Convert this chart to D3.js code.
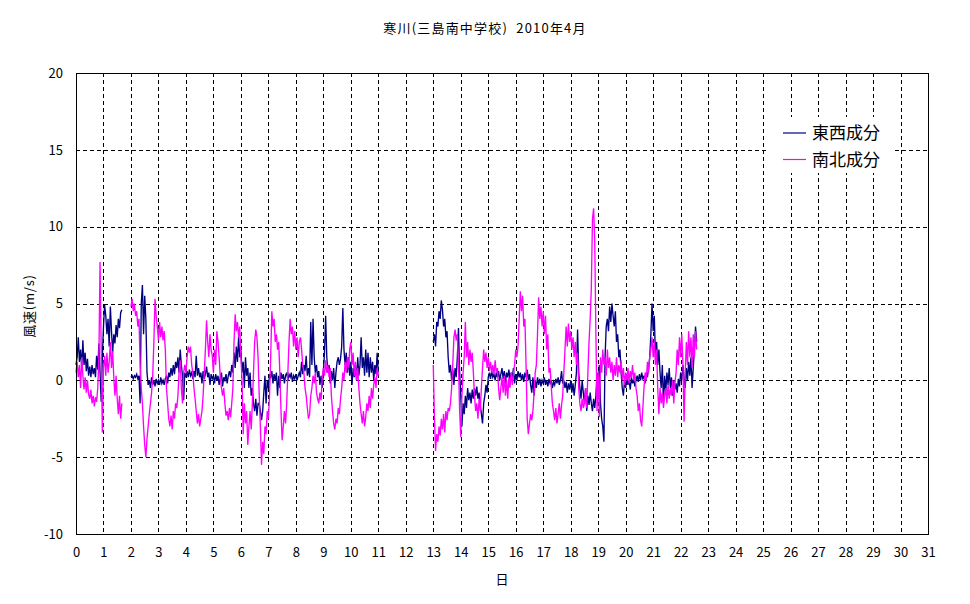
<!DOCTYPE html>
<html><head><meta charset="utf-8">
<script src="https://cdn.jsdelivr.net/npm/d3@7"></script>
<style>
body{margin:0;background:#fff}
text{font-family:"Noto Sans CJK JP","Noto Sans",sans-serif;fill:#000}
</style>
</head><body><svg id="c" width="970" height="604"></svg>
<script>
const chartTitle = "寒川(三島南中学校)  2010年4月";
const yLabel = "風速(m/s)";
const xLabel = "日";
const seriesNames = ["東西成分", "南北成分"];
const seriesColors = ["#000080", "#ff00ff"];
const dayTicks = d3.range(0, 32);
const yTicks = [-10, -5, 0, 5, 10, 15, 20];
// hourly data segments: start hour of each segment
const segStartHours = [0, 48, 312];

// 東西成分 (east-west component), m/s, hourly
const ewSeg1 = [1.0,1.5,2.8,1.2,2.0,0.8,2.6,1.0,1.8,0.6, 1.4,0.3,0.9,0.2,1.0,0.4,0.8,0.2,1.6,0.7,
 2.4,0.5,-1.4,1.5,3.5,4.9,4.2,3.0,4.0,2.2, 4.8,3.2,1.8,3.0,2.4,3.6,2.8,4.0,3.4,4.4, 4.6];
const ewSeg2 = [0.2,0.3,0.1,0.3,0.2,0.4,0.1,0.3,-1.5,5.0,
 6.2,3.0,5.5,4.0,0.5,-0.3,0.0,-0.5,0.2,-0.3,
 0.0,-0.4,0.1,-0.2,0.0,-0.3,0.2,-0.2,0.0,-0.3,
 0.1,0.3,-0.2,0.5,0.2,0.8,0.3,1.0,0.4,1.2,
 0.8,1.5,0.5,2.0,1.0,0.3,-1.3,0.5,0.2,0.6,
 0.2,0.7,0.3,0.5,0.1,0.6,0.2,1.6,0.3,0.8,
 0.2,0.5,-0.2,0.6,0.1,0.4,0.9,0.2,0.5,-0.3,
 0.4,0.1,0.3,-0.2,0.4,0.0,0.3,-0.3,0.2,0.5,
 -0.4,0.2,0.0,0.4,-0.2,0.3,0.6,0.2,1.0,0.5,
 1.8,0.8,2.2,1.2,2.8,1.5,2.0,0.5,1.2,-0.5,
 1.5,0.3,0.8,-0.5,0.5,-1.0,-0.5,-1.5,-2.0,-1.2,
 -2.3,-1.5,-1.5,-2.0,-2.6,-2.0,-0.8,0.3,-1.5,0.0,
 -0.5,0.4,0.2,0.6,-0.2,0.4,0.0,0.5,-1.0,0.3,
 -0.5,0.5,0.1,0.4,-0.2,0.3,0.5,0.0,0.4,0.2,
 0.5,-0.1,0.3,0.1,0.4,0.0,0.3,0.5,0.2,1.2,
 0.4,1.0,0.6,1.6,0.3,0.8,0.2,3.8,1.0,4.0,
 1.5,0.5,1.0,0.2,0.6,-0.3,0.3,-0.5,0.5,1.8,
 4.2,1.5,0.5,1.0,-0.2,0.6,0.0,0.8,-0.5,0.5,
 1.2,1.5,1.0,1.4,2.2,4.7,2.0,1.0,1.8,0.5,
 1.5,0.3,1.2,-0.3,0.8,0.2,1.0,0.0,1.5,0.3,
 1.0,2.8,0.8,1.5,0.3,2.0,0.5,1.8,0.2,1.5,
 0.5,1.2,0.0,1.0,0.4,1.8,0.5];
const ewSeg3 = [2.5,3.0,2.2,3.8,3.5,4.5,4.0,5.2,4.6,3.5,
 4.0,2.8,3.2,1.5,0.5,1.0,0.0,0.7,-0.3,0.8,
 0.2,1.5,3.4,0.5,-1.0,-3.0,-1.5,-2.2,-1.0,-1.8,
 -0.5,-1.3,-0.8,-1.5,-0.6,-1.2,-0.5,-1.0,-0.4,-1.2,
 -0.8,-1.6,-2.2,-2.8,-1.5,-1.0,-0.3,-0.8,0.2,0.5,
 0.1,0.6,0.2,0.4,0.0,0.5,0.2,0.6,0.0,0.4,
 0.8,0.1,0.6,-0.2,0.5,0.2,0.7,0.0,0.5,0.2,
 0.8,-0.2,0.4,0.0,0.6,0.2,0.5,0.0,0.4,-0.1,
 0.5,0.2,0.7,0.0,0.4,-0.3,-0.8,0.2,-1.0,0.0,
 -0.5,0.2,-0.3,0.1,-0.4,0.0,-0.2,0.2,-0.3,0.0,
 -0.4,0.1,-0.2,0.0,-0.5,-0.1,-0.3,0.1,-0.2,0.2,
 -0.3,0.0,0.6,-0.2,0.0,-0.5,-0.1,-0.8,-0.2,-0.6,
 0.0,-0.8,-0.2,-1.0,-0.3,0.5,3.3,0.5,-0.5,-1.2,
 0.0,-0.8,-1.5,-0.5,-2.0,-1.0,-1.6,-0.8,-1.5,-2.0,
 -1.2,-1.8,-1.0,0.5,-0.5,1.0,-1.5,-2.5,-3.0,-4.0,
 1.5,3.5,4.0,3.2,4.8,3.8,5.0,4.2,3.5,4.5,
 2.5,3.0,1.5,2.0,0.5,-0.5,-1.0,0.0,-0.5,0.2,
 -0.3,0.0,-0.6,0.2,-0.2,0.1,-0.4,0.0,0.3,-0.1,
 0.4,0.0,0.5,0.1,0.3,-0.2,0.5,0.2,0.8,1.5,
 3.0,5.0,3.2,4.2,1.5,2.5,1.0,2.0,0.5,-0.5,
 1.0,-1.5,0.3,-0.8,0.5,-0.3,0.8,-0.5,0.2,-1.0,
 0.0,-0.6,-0.2,-0.8,0.1,-0.4,0.5,0.0,1.0,0.2,
 -0.5,0.8,0.0,1.2,0.3,1.5,-0.5,0.8,2.0,3.5,
 2.5];

// 南北成分 (north-south component), m/s, hourly
const nsSeg1 = [0.5,1.2,0.2,1.0,-0.5,1.5,0.3,-0.6,0.2,-0.8, 0.0,-0.9,-1.2,-0.6,-1.5,-1.0,-1.7,-1.1,-1.4,-0.5,
 1.5,7.7,2.0,-3.4,0.8,1.6,0.3,1.8,0.5,1.2, 2.5,0.8,1.9,0.2,-1.0,0.3,-1.2,-2.2,-1.0,-2.5, -1.5];
const nsSeg2 = [4.8,5.3,4.5,5.0,4.2,4.5,3.5,4.0,1.0,-0.5,
 -1.5,-3.0,-4.2,-5.0,-3.8,-3.0,-2.2,-1.5,-0.8,0.3,
 2.5,5.3,4.2,3.5,2.6,3.8,2.8,3.5,2.6,3.2,
 2.0,-0.5,-1.5,-2.5,-3.0,-2.3,-3.2,-2.0,-2.5,-1.5,
 -1.8,-1.0,0.5,1.3,-0.5,-1.5,0.5,1.0,0.5,1.5,
 2.2,1.8,2.2,1.0,0.5,-0.5,-1.2,-2.0,-2.8,-2.2,
 -3.0,-2.5,-2.0,-1.0,0.5,2.0,3.9,2.5,1.5,3.0,
 2.0,1.6,0.5,2.0,1.0,3.2,2.5,1.5,0.2,-0.5,
 -1.0,-0.5,-1.5,-2.3,-2.0,-2.6,-1.8,-2.4,-1.5,-0.5,
 2.5,4.3,3.2,3.8,2.8,3.5,1.5,0.0,-3.5,-1.5,
 -2.8,-2.0,-4.2,-3.0,-2.0,-3.2,-1.5,0.5,2.5,3.3,
 2.8,1.5,-1.0,-3.0,-5.5,-4.0,-4.8,-3.0,-3.5,-2.0,
 -2.5,-1.0,1.5,4.5,3.5,4.0,2.5,3.0,2.0,2.5,
 0.5,-2.0,-3.9,-3.0,-2.0,-2.8,-1.5,0.5,2.5,4.0,
 3.0,3.5,2.2,3.2,2.0,2.8,1.5,2.5,2.8,2.0,
 1.0,0.5,-0.5,-1.0,-1.8,-2.5,-2.2,-1.0,-0.5,0.3,
 -0.2,0.5,-0.8,-1.2,-1.5,-0.8,-1.3,0.2,0.8,0.3,
 1.3,0.5,1.0,0.2,0.8,-1.0,-2.0,-2.8,-3.2,-2.5,
 -2.8,-1.8,-2.2,-1.2,-0.5,0.5,0.0,1.2,0.5,1.5,
 0.8,2.0,2.5,1.0,1.8,0.3,1.2,0.0,0.8,-0.5,
 -1.5,-2.2,-2.8,-2.0,-3.0,-2.4,-1.5,-2.0,-1.0,-1.8,
 -0.5,-1.2,-0.3,0.2,-0.5,0.8,0.3];
const nsSeg3 = [1.0,-2.5,-4.6,-3.5,-4.0,-3.0,-3.6,-2.5,-3.2,-2.2,
 -3.4,-2.0,-2.6,-1.8,-2.0,-1.5,-0.5,1.0,2.8,3.3,
 2.6,3.0,1.0,-2.0,-3.7,-1.0,0.5,1.5,3.8,1.5,
 2.5,1.0,2.0,1.2,1.8,0.5,-1.0,-2.0,-1.5,-2.5,
 -1.2,-2.0,-0.5,0.8,2.0,1.2,1.8,0.8,1.5,0.6,
 1.2,0.5,1.0,0.4,1.3,0.5,0.8,-0.5,-1.3,-0.5,
 0.2,-0.8,0.3,-1.0,0.0,-1.2,0.2,-0.5,0.5,-0.3,
 0.5,1.0,2.0,1.5,2.2,4.0,5.8,4.5,5.5,3.5,
 4.0,1.0,-2.5,-3.5,-2.8,-2.2,-2.6,-2.0,-0.8,0.5,
 1.0,3.0,5.4,4.0,4.8,3.5,4.5,3.0,4.2,2.0,
 3.0,0.5,0.8,-0.4,-1.5,-2.0,-2.6,-1.8,-2.8,-2.2,
 -1.5,-2.5,-1.6,-1.0,0.5,2.0,3.5,2.2,3.7,2.5,
 3.2,2.0,2.8,1.5,2.5,1.0,1.8,-0.5,-1.5,-2.0,
 -1.2,-1.8,-1.5,-0.5,-1.8,0.5,2.5,4.0,6.0,10.5,
 11.2,9.0,3.0,-2.0,0.5,-2.4,1.5,0.5,2.0,1.0,
 1.5,0.3,2.0,0.8,1.5,0.5,1.2,0.0,1.0,0.3,
 1.5,0.2,1.0,0.5,1.3,0.0,0.8,-0.3,0.5,0.0,
 0.8,-0.2,0.6,0.2,1.0,0.0,0.5,-0.5,-1.0,-2.0,
 -1.5,-2.6,-3.0,-1.8,-0.5,0.5,0.0,1.2,0.5,1.5,
 2.0,2.8,1.5,2.5,1.0,2.0,-0.5,-2.2,-0.5,-1.5,
 -0.8,-1.8,-1.0,-0.5,-1.5,-0.3,-1.2,-0.5,-1.0,0.0,
 -1.5,-0.2,0.5,2.0,1.0,2.8,1.5,3.0,1.0,-2.7,
 0.5,2.5,1.0,3.2,1.5,2.8,0.8,3.0,1.5,3.2,
 2.0];

const ewSegments = [ewSeg1, ewSeg2, ewSeg3];
const nsSegments = [nsSeg1, nsSeg2, nsSeg3];

const svg = d3.select("#c");
const W = 970, H = 604;
const m = {left: 76, right: 42, top: 73, bottom: 70};
const x = d3.scaleLinear().domain([0, 31]).range([m.left, W - m.right]);
const y = d3.scaleLinear().domain([-10, 20]).range([H - m.bottom, m.top]);

svg.append("rect").attr("width", W).attr("height", H).attr("fill", "#fff");

// grid
const grid = svg.append("g").attr("stroke", "#000").attr("stroke-width", 1)
  .attr("stroke-dasharray", "4,3").attr("shape-rendering", "crispEdges");
grid.selectAll("line.v").data(dayTicks.slice(1, -1)).join("line")
  .attr("x1", d => Math.round(x(d)) + 0.5).attr("x2", d => Math.round(x(d)) + 0.5)
  .attr("y1", y(20)).attr("y2", y(-10));
grid.selectAll("line.h").data(yTicks.slice(1, -1)).join("line")
  .attr("y1", d => Math.round(y(d)) + 0.5).attr("y2", d => Math.round(y(d)) + 0.5)
  .attr("x1", x(0)).attr("x2", x(31));

// series
function toPoints(segs) {
  const pts = [];
  segs.forEach((seg, k) => {
    seg.forEach((v, i) => pts.push({t: (segStartHours[k] + i) / 24, v}));
    pts.push(null);
  });
  return pts;
}
const line = d3.line().defined(d => d !== null).x(d => x(d.t)).y(d => y(d.v));
[ewSegments, nsSegments].forEach((segs, i) => {
  svg.append("path").datum(toPoints(segs)).attr("d", line)
    .attr("fill", "none").attr("stroke", seriesColors[i]).attr("stroke-width", 1.35)
    .attr("stroke-linejoin", "miter");
});

// frame
svg.append("rect").attr("x", Math.round(x(0)) + 0.5).attr("y", Math.round(y(20)) + 0.5)
  .attr("width", Math.round(x(31)) - Math.round(x(0))).attr("height", Math.round(y(-10)) - Math.round(y(20)))
  .attr("fill", "none").attr("stroke", "#000").attr("shape-rendering", "crispEdges");

// axes labels
const xAxis = d3.axisBottom(x).tickValues(dayTicks).tickSize(0).tickPadding(14).tickFormat(d3.format("d"));
const gx = svg.append("g").attr("transform", `translate(0,${y(-10)})`).call(xAxis);
gx.select(".domain").remove();
gx.selectAll("text").attr("font-size", 13).style("font-family", '"Noto Sans CJK JP",sans-serif');
const yAxis = d3.axisLeft(y).tickValues(yTicks).tickSize(0).tickPadding(13).tickFormat(d => String(d));
const gy = svg.append("g").attr("transform", `translate(${x(0)},0)`).call(yAxis);
gy.select(".domain").remove();
gy.selectAll("text").attr("font-size", 13).style("font-family", '"Noto Sans CJK JP",sans-serif');

svg.append("text").attr("x", 485).attr("y", 33).attr("text-anchor", "middle")
  .attr("font-size", 13).attr("letter-spacing", 1.2).attr("xml:space", "preserve")
  .style("white-space", "pre").text(chartTitle);
svg.append("text").attr("x", 502).attr("y", 584).attr("text-anchor", "middle")
  .attr("font-size", 13).text(xLabel);
svg.append("text").attr("transform", "translate(34,306) rotate(-90)").attr("text-anchor", "middle")
  .attr("font-size", 13).attr("letter-spacing", 0.8).text(yLabel);

// legend
const lg = svg.append("g");
lg.append("rect").attr("x", 768).attr("y", 117).attr("width", 125).attr("height", 56).attr("fill", "#fff");
seriesNames.forEach((n, i) => {
  const yy = 133 + i * 26.5;
  lg.append("line").attr("x1", 783).attr("x2", 806).attr("y1", yy).attr("y2", yy)
    .attr("stroke", seriesColors[i]).attr("stroke-width", 1.2);
  lg.append("text").attr("x", 812).attr("y", yy + 6).attr("font-size", 17).text(n);
});
</script></body></html>
